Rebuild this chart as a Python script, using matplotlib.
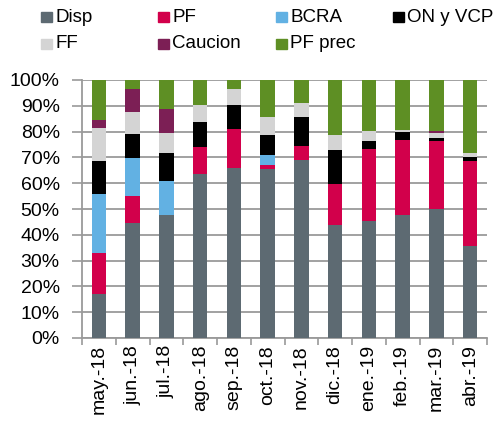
import numpy as np
import matplotlib
matplotlib.use("Agg")
import matplotlib.pyplot as plt
from matplotlib.patches import Rectangle
from matplotlib.ticker import FuncFormatter, FixedLocator

plt.rcParams['font.family'] = ['Liberation Sans', 'DejaVu Sans']

months = ["may.-18", "jun.-18", "jul.-18", "ago.-18", "sep.-18", "oct.-18",
          "nov.-18", "dic.-18", "ene.-19", "feb.-19", "mar.-19", "abr.-19"]

# shares in %
disp    = [17.0, 44.4, 47.5, 63.6, 65.9, 65.4, 69.0, 43.7, 45.2, 47.5, 50.1, 35.7]
pf      = [16.0, 10.6,  0.0, 10.6, 15.2,  1.5,  5.4, 16.0, 28.2, 29.2, 26.1, 33.0]
bcra    = [23.0, 14.8, 13.5,  0.0,  0.0,  4.1,  0.0,  0.0,  0.0,  0.0,  0.0,  0.0]
on_vcp  = [12.5,  9.2, 10.6,  9.5,  9.1,  7.6, 11.1, 13.2,  3.1,  3.1,  1.3,  1.3]
ff      = [13.0,  8.6,  8.0,  6.5,  6.4,  6.9,  5.7,  5.7,  3.6,  0.8,  1.8,  1.8]
caucion = [ 3.0,  9.0,  9.0,  0.0,  0.0,  0.0,  0.0,  0.0,  0.0,  0.0,  0.8,  0.0]
pf_prec = [15.5,  3.4, 11.4,  9.8,  3.4, 14.5,  8.8, 21.4, 19.9, 19.4, 19.9, 28.2]

series = [("Disp", disp, "#5d6a72"),
          ("PF", pf, "#d2004b"),
          ("BCRA", bcra, "#62b1e3"),
          ("ON y VCP", on_vcp, "#000000"),
          ("FF", ff, "#d4d4d4"),
          ("Caucion", caucion, "#7c1f55"),
          ("PF prec", pf_prec, "#5e8f24")]

W, H = 494, 422
fig = plt.figure(figsize=(W / 100, H / 100), dpi=100)
ax = fig.add_axes([82 / W, 1 - 338 / H, 405 / W, 258 / H])

x = np.arange(len(months))
bottom = np.zeros(len(months))
for name, vals, col in series:
    v = np.array(vals) / 100.0
    ax.bar(x, v, 0.43, bottom=bottom, color=col, label=name, zorder=3)
    bottom += v

ax.set_xlim(-0.5, len(months) - 0.5)
ax.set_ylim(0, 1.0)
ax.set_yticks(np.arange(0, 1.01, 0.1))
ax.yaxis.set_major_formatter(FuncFormatter(lambda v, p: "%d%%" % round(v * 100)))
ax.yaxis.grid(True, color="#9a9a9a", linewidth=1.3, zorder=0)
ax.set_xticks(x)
ax.set_xticklabels(months, rotation=90)
ax.xaxis.set_minor_locator(FixedLocator(np.arange(-0.5, len(months), 1)))
ax.tick_params(axis="x", which="major", length=0, labelsize=14, pad=5)
ax.tick_params(axis="x", which="minor", length=5, color="#9a9a9a", width=1.2)
ax.tick_params(axis="y", length=7, color="#9a9a9a", width=1.2, labelsize=14, pad=9)
for s in ["top", "right"]:
    ax.spines[s].set_visible(False)
for s in ["left", "bottom"]:
    ax.spines[s].set_color("#9a9a9a")
    ax.spines[s].set_linewidth(1.3)

# legend laid out as in the original: 4 columns, 2 rows
col_x = [41, 158, 276, 393]
row_y = [17, 44]
for i, (name, vals, col) in enumerate(series):
    cx = col_x[i % 4]
    cy = row_y[i // 4]
    fig.patches.append(Rectangle((cx / W, 1 - (cy + 5) / H), 11 / W, 10 / H,
                                 transform=fig.transFigure, color=col, figure=fig))
    fig.text((cx + 14) / W, 1 - cy / H, name, fontsize=13.5, va="center", ha="left")

fig.savefig("out.png", dpi=100)
